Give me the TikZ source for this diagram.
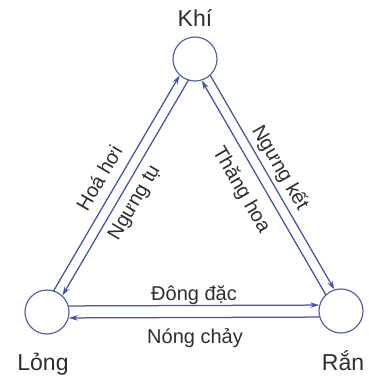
\documentclass[tikz,border=0pt]{standalone}
\usepackage{fontspec}
\setmainfont{Liberation Sans}
\usetikzlibrary{arrows.meta,calc}
\definecolor{lineblue}{HTML}{4253A3}
\definecolor{circblue}{HTML}{56659F}
\begin{document}
\begin{tikzpicture}[x=1pt,y=-1pt,
  state/.style={circle,draw=circblue,line width=1.2pt,minimum size=44pt,inner sep=0pt},
  big/.style={font=\fontsize{23}{25}\selectfont,text=black!82},
  small/.style={font=\fontsize{20}{22}\selectfont,text=black!82},
  conn/.style={draw=lineblue,line width=1.25pt,-{Stealth[length=9pt,width=5.5pt]}}]
\useasboundingbox (0,0) rectangle (369,380);
\node[state] (K) at (195,59) {};
\node[state] (L) at (47,312) {};
\node[state] (R) at (341,311) {};
% left side
\draw[conn,shorten <=21.5pt,shorten >=22pt] ($(L)!5pt!90:(K)$) -- ($(K)!5pt!-90:(L)$);
\draw[conn,shorten <=21.5pt,shorten >=22pt] ($(K)!5pt!90:(L)$) -- ($(L)!5pt!-90:(K)$);
% right side
\draw[conn,shorten <=21.5pt,shorten >=22pt] ($(K)!5pt!90:(R)$) -- ($(R)!5pt!-90:(K)$);
\draw[conn,shorten <=21.5pt,shorten >=22pt] ($(R)!5pt!90:(K)$) -- ($(K)!5pt!-90:(R)$);
% bottom
\draw[conn,shorten <=21.3pt,shorten >=21.8pt] ($(L)!6pt!90:(R)$) -- ($(R)!6pt!-90:(L)$);
\draw[conn,shorten <=21.3pt,shorten >=21.8pt] ($(R)!6pt!90:(L)$) -- ($(L)!6pt!-90:(R)$);
% labels
\node[big,anchor=base] (tK) at (195,26) {Khí};
\node[big,anchor=base] (tL) at (43,370) {Lỏng};
\node[big,anchor=base] (tR) at (343,370) {Rắn};
\node[small,anchor=base] (t1) at (194,300) {Đông đặc};
\node[small,anchor=base] (t2) at (195,343) {Nóng chảy};
\node[small,rotate=59.7,inner sep=0pt] (t3) at (99,178) {Hoá hơi};
\node[small,rotate=59.7,inner sep=0pt] (t4) at (135,203) {Ngưng tụ};
\node[small,rotate=-59.9,inner sep=0pt] (t5) at (280,168) {Ngưng kết};
\node[small,rotate=-59.9,inner sep=0pt] (t6) at (241,190) {Thăng hoa};
\end{tikzpicture}
\end{document}
